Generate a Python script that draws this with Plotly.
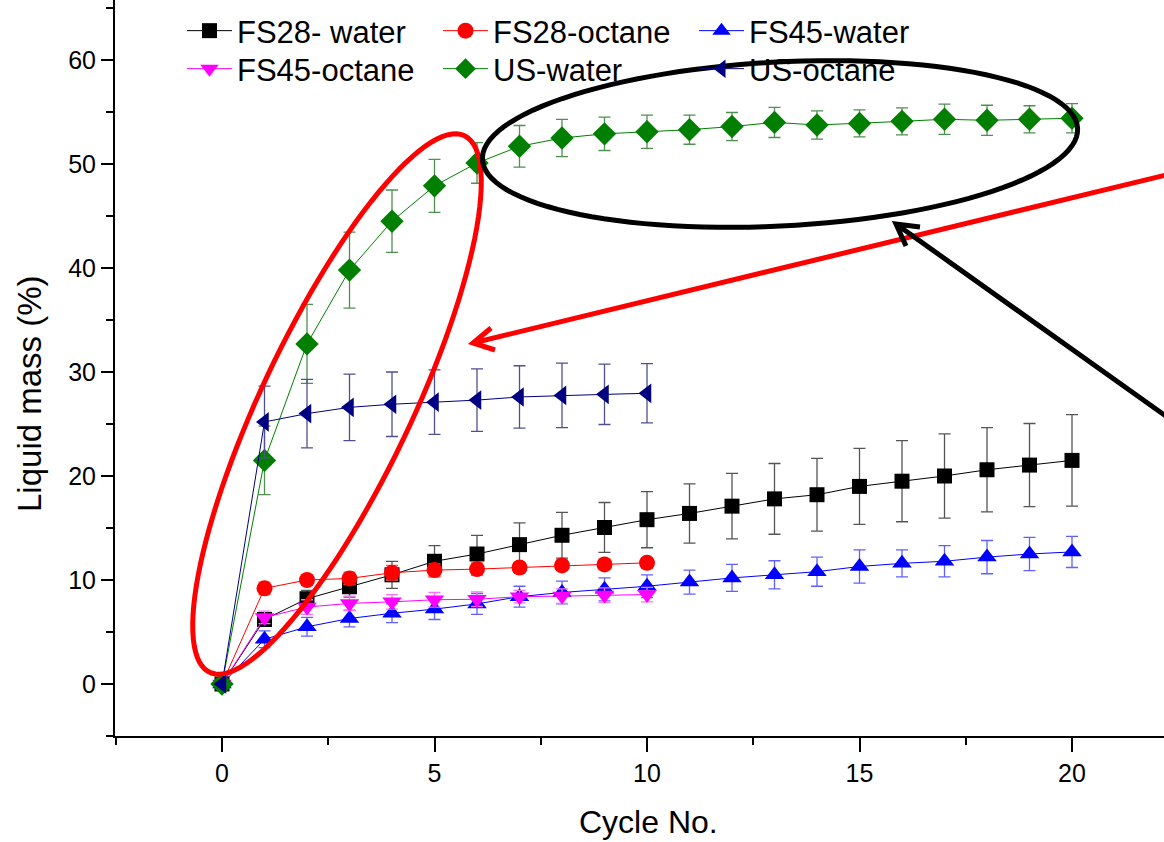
import numpy as np
import plotly.graph_objects as go

# ---------------- data ----------------
cycles_long = list(range(0, 21))
cycles_short = list(range(0, 11))

fs28_water = [0, 6.2, 8.2, 9.35, 10.5, 11.8, 12.5, 13.4, 14.3, 15.05, 15.8,
              16.4, 17.1, 17.8, 18.2, 19.0, 19.5, 20.0, 20.6, 21.05, 21.5]
fs28_water_err = [0, 0.6, 0.8, 1.0, 1.3, 1.5, 1.8, 2.1, 2.2, 2.4, 2.7,
                  2.85, 3.15, 3.4, 3.5, 3.65, 3.9, 4.05, 4.05, 4.0, 4.4]

fs28_octane = [0, 9.2, 10.0, 10.15, 10.7, 10.95, 11.05, 11.2, 11.4, 11.5, 11.65]
fs28_octane_err = [0, 0.6, 0.5, 0.6, 0.7, 0.6, 0.6, 0.5, 0.5, 0.5, 0.5]

fs45_water = [0, 4.3, 5.5, 6.3, 6.8, 7.2, 7.7, 8.4, 8.8, 9.1, 9.4,
              9.8, 10.2, 10.5, 10.8, 11.3, 11.6, 11.8, 12.2, 12.5, 12.7]
fs45_water_err = [0, 0.8, 0.9, 0.8, 0.9, 1.0, 1.0, 1.0, 1.1, 1.1, 1.1,
                  1.15, 1.3, 1.35, 1.4, 1.6, 1.3, 1.5, 1.6, 1.6, 1.5]

fs45_octane = [0, 6.4, 7.4, 7.75, 7.9, 8.1, 8.15, 8.4, 8.45, 8.55, 8.6]
fs45_octane_err = [0, 0.6, 0.7, 0.7, 0.7, 0.7, 0.7, 0.6, 0.7, 0.7, 0.7]

us_water = [0, 21.5, 32.7, 39.8, 44.5, 47.9, 50.1, 51.7, 52.5, 52.9, 53.1,
            53.3, 53.6, 54.0, 53.75, 53.9, 54.1, 54.3, 54.2, 54.3, 54.4]
us_water_err = [0, 3.3, 3.8, 3.65, 3.0, 2.55, 1.95, 2.0, 1.8, 1.6, 1.6,
                1.4, 1.35, 1.45, 1.35, 1.3, 1.3, 1.45, 1.45, 1.3, 1.4]

us_octane = [0, 25.2, 26.0, 26.6, 26.9, 27.1, 27.3, 27.6, 27.75, 27.85, 27.95]
us_octane_err = [0, 3.45, 3.3, 3.2, 3.1, 3.1, 3.0, 3.0, 3.1, 2.9, 2.85]

x_ticks = [0, 5, 10, 15, 20]
y_ticks = [0, 10, 20, 30, 40, 50, 60]
x_title = "Cycle No."
y_title = "Liquid mass (%)"

series = [
    ("FS28- water", cycles_long, fs28_water, fs28_water_err, "#000000", "#555555", "square", 15, "legend"),
    ("FS28-octane", cycles_short, fs28_octane, fs28_octane_err, "#FF0000", "#FF6060", "circle", 16, "legend"),
    ("FS45-water", cycles_long, fs45_water, fs45_water_err, "#0000FF", "#6060FF", "triangle-up", 17, "legend"),
    ("FS45-octane", cycles_short, fs45_octane, fs45_octane_err, "#FF00FF", "#FF70FF", "triangle-down", 17, "legend2"),
    ("US-water", cycles_long, us_water, us_water_err, "#007F00", "#509050", "diamond", 18, "legend2"),
    ("US-octane", cycles_short, us_octane, us_octane_err, "#000080", "#505090", "triangle-left", 17, "legend2"),
]

# ---------------- layout geometry ----------------
W, H = 1164, 842
ML, MR, MT, MB = 115, 0, 0, 106
PW, PH = W - ML - MR, H - MT - MB
X0_PX, X_PER = 222.0, 42.5      # pixel of x=0, px per unit
Y0_PX, Y_PER = 684.0, 10.4      # pixel of y=0, px per unit
x_range = [(ML - X0_PX) / X_PER, (W - MR - X0_PX) / X_PER]
y_range = [(Y0_PX - (H - MB)) / Y_PER, (Y0_PX - MT) / Y_PER]


def px2d(px, py):
    return (px - X0_PX) / X_PER, (Y0_PX - py) / Y_PER


def ellipse_path(cx, cy, a, b, ang_deg, n=120):
    t = np.linspace(0, 2 * np.pi, n)
    th = np.radians(ang_deg)
    u = a * np.cos(t)
    v = b * np.sin(t)
    px = cx + u * np.cos(th) - v * np.sin(th)
    py = cy - (u * np.sin(th) + v * np.cos(th))
    pts = [px2d(p, q) for p, q in zip(px, py)]
    return "M " + " L ".join(f"{x:.4f},{y:.4f}" for x, y in pts) + " Z"


def arrow_path(tail, tip, wing1, wing2):
    pts = [px2d(*p) for p in (tail, tip, wing1, tip, wing2)]
    s = f"M {pts[0][0]:.4f},{pts[0][1]:.4f} L {pts[1][0]:.4f},{pts[1][1]:.4f} "
    s += f"M {pts[2][0]:.4f},{pts[2][1]:.4f} L {pts[3][0]:.4f},{pts[3][1]:.4f} L {pts[4][0]:.4f},{pts[4][1]:.4f}"
    return s


FONT = "Liberation Sans, Arial, Helvetica, sans-serif"

fig = go.Figure()
for name, xs, ys, es, col, ecol, sym, size, leg in series:
    fig.add_trace(go.Scatter(
        x=xs, y=ys, name=name, mode="lines+markers", legend=leg,
        line=dict(color=col, width=1),
        marker=dict(symbol=sym, size=size, color=col, line=dict(width=0)),
        error_y=dict(type="data", array=es, visible=True, color=ecol,
                     thickness=1.3, width=6),
        cliponaxis=False,
    ))

shapes = [
    dict(type="path", xref="x", yref="y", layer="above",
         path=ellipse_path(337, 404, 297, 75, 64.6),
         line=dict(color="#FF0000", width=5)),
    dict(type="path", xref="x", yref="y", layer="above",
         path=ellipse_path(780, 144, 298, 82, 3.0),
         line=dict(color="#000000", width=5)),
    dict(type="path", xref="x", yref="y", layer="above",
         path=arrow_path((1170, 174), (473, 343), (491, 328), (495, 350)),
         line=dict(color="#FF0000", width=5)),
    dict(type="path", xref="x", yref="y", layer="above",
         path=arrow_path((1170, 419), (896, 224), (920, 227), (906, 246)),
         line=dict(color="#000000", width=5)),
]

leg_common = dict(orientation="h", xanchor="left", yanchor="top",
                  font=dict(size=31, family=FONT, color="black"),
                  bgcolor="rgba(0,0,0,0)", entrywidth=196, entrywidthmode="pixels",
                  itemwidth=45)

fig.update_layout(
    width=W, height=H,
    margin=dict(l=ML, r=MR, t=MT, b=MB, pad=0),
    paper_bgcolor="white", plot_bgcolor="white",
    font=dict(family=FONT, color="black"),
    showlegend=True,
    legend=dict(x=(182 - ML) / PW, y=(H - MB - 4) / PH, **leg_common),
    legend2=dict(x=(182 - ML) / PW, y=(H - MB - 42) / PH, **leg_common),
    shapes=shapes,
    annotations=[
        dict(text=y_title, xref="paper", yref="paper", x=(29 - ML) / PW,
             y=(H - MB - 394) / PH, textangle=-90, showarrow=False,
             xanchor="center", yanchor="middle",
             font=dict(size=33, family=FONT, color="black")),
        dict(text=x_title, xref="paper", yref="paper", x=(648 - ML) / PW,
             y=(H - MB - 822) / PH, showarrow=False,
             xanchor="center", yanchor="middle",
             font=dict(size=32, family=FONT, color="black")),
    ],
    xaxis=dict(range=x_range, tickvals=x_ticks, ticks="outside", ticklen=14,
               tickwidth=2, tickcolor="black", showline=True, linecolor="black",
               linewidth=2, showgrid=False, zeroline=False,
               tickfont=dict(size=25, family=FONT, color="black"),
               minor=dict(dtick=2.5, tick0=0, ticks="outside", ticklen=7,
                          tickwidth=1.5, tickcolor="black", showgrid=False)),
    yaxis=dict(range=y_range, tickvals=y_ticks, ticks="outside", ticklen=12,
               tickwidth=2, tickcolor="black", showline=True, linecolor="black",
               linewidth=2, showgrid=False, zeroline=False,
               tickfont=dict(size=25, family=FONT, color="black"),
               minor=dict(dtick=5, tick0=0, ticks="outside", ticklen=7,
                          tickwidth=1.5, tickcolor="black", showgrid=False)),
)

fig.write_html("out.html", config={"displayModeBar": False},
               post_script="document.body.style.margin='0';")
